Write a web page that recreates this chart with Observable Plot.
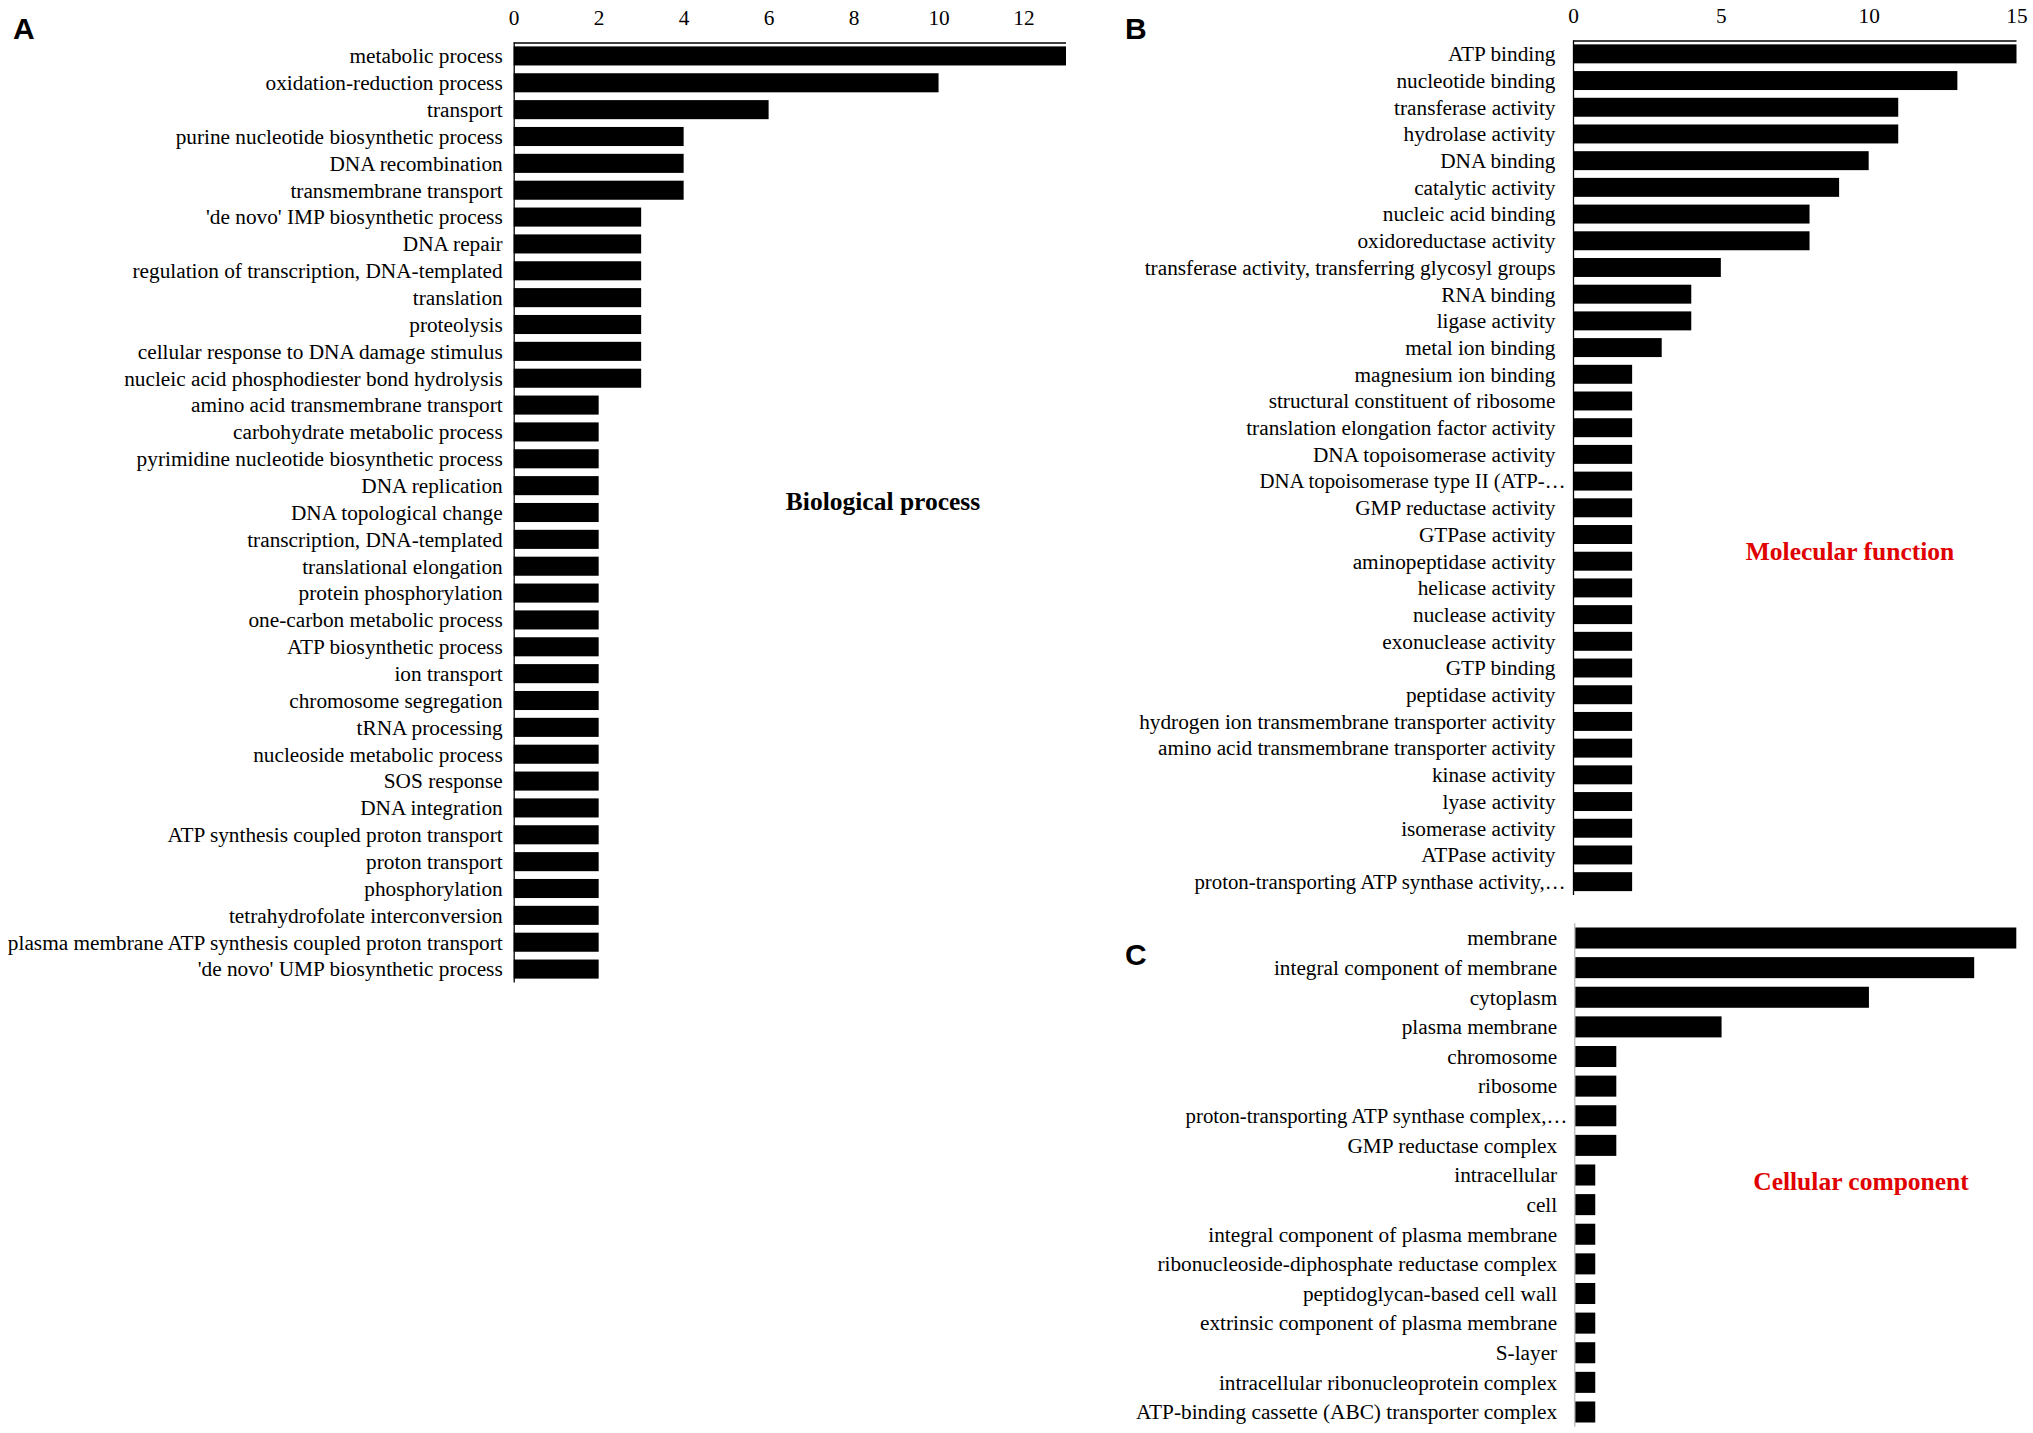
<!DOCTYPE html>
<html><head><meta charset="utf-8">
<script src="https://cdn.jsdelivr.net/npm/d3@7"></script>
<script src="https://cdn.jsdelivr.net/npm/@observablehq/plot@0.6"></script>
<style>
body{margin:0;background:#fff;}
#page{position:relative;width:2033px;height:1433px;background:#fff;overflow:hidden;}
.panel{position:absolute;}
.letter{position:absolute;font-family:"Liberation Sans",Arial,sans-serif;font-weight:bold;font-size:30px;line-height:30px;color:#000;}
.title{position:absolute;font-family:"Liberation Serif","Times New Roman",serif;font-weight:bold;font-size:25.5px;line-height:25.5px;transform:translateX(-50%);white-space:nowrap;}
</style></head><body><div id="page"></div>
<script>
// ---- A: Biological process ----
const bpTerms = [
  "metabolic process","oxidation-reduction process","transport","purine nucleotide biosynthetic process",
  "DNA recombination","transmembrane transport","'de novo' IMP biosynthetic process","DNA repair",
  "regulation of transcription, DNA-templated","translation","proteolysis","cellular response to DNA damage stimulus",
  "nucleic acid phosphodiester bond hydrolysis","amino acid transmembrane transport","carbohydrate metabolic process",
  "pyrimidine nucleotide biosynthetic process","DNA replication","DNA topological change","transcription, DNA-templated",
  "translational elongation","protein phosphorylation","one-carbon metabolic process","ATP biosynthetic process",
  "ion transport","chromosome segregation","tRNA processing","nucleoside metabolic process","SOS response",
  "DNA integration","ATP synthesis coupled proton transport","proton transport","phosphorylation",
  "tetrahydrofolate interconversion","plasma membrane ATP synthesis coupled proton transport","'de novo' UMP biosynthetic process"
];
const bpCounts = [13,10,6,4,4,4,3,3,3,3,3,3,3,2,2,2,2,2,2,2,2,2,2,2,2,2,2,2,2,2,2,2,2,2,2];
const bpTicks = [0,2,4,6,8,10,12];

// ---- B: Molecular function ----
const mfTerms = [
  "ATP binding","nucleotide binding","transferase activity","hydrolase activity","DNA binding","catalytic activity",
  "nucleic acid binding","oxidoreductase activity","transferase activity, transferring glycosyl groups","RNA binding",
  "ligase activity","metal ion binding","magnesium ion binding","structural constituent of ribosome",
  "translation elongation factor activity","DNA topoisomerase activity","DNA topoisomerase type II (ATP-\u2026",
  "GMP reductase activity","GTPase activity","aminopeptidase activity","helicase activity","nuclease activity",
  "exonuclease activity","GTP binding","peptidase activity","hydrogen ion transmembrane transporter activity",
  "amino acid transmembrane transporter activity","kinase activity","lyase activity","isomerase activity",
  "ATPase activity","proton-transporting ATP synthase activity,\u2026"
];
const mfCounts = [15,13,11,11,10,9,8,8,5,4,4,3,2,2,2,2,2,2,2,2,2,2,2,2,2,2,2,2,2,2,2,2];
const mfTicks = [0,5,10,15];

// ---- C: Cellular component ----
const ccTerms = [
  "membrane","integral component of membrane","cytoplasm","plasma membrane","chromosome","ribosome",
  "proton-transporting ATP synthase complex,\u2026","GMP reductase complex","intracellular","cell",
  "integral component of plasma membrane","ribonucleoside-diphosphate reductase complex","peptidoglycan-based cell wall",
  "extrinsic component of plasma membrane","S-layer","intracellular ribonucleoprotein complex",
  "ATP-binding cassette (ABC) transporter complex"
];
const ccCounts = [21,19,14,7,2,2,2,2,1,1,1,1,1,1,1,1,1];

const page = document.getElementById("page");

function panel(o) {
  const data = o.terms.map((t, i) => ({term: t, count: o.counts[i]}));
  const step = (o.height - o.mT - o.mB) / o.terms.length;
  const cut = o.terms.filter(t => t.endsWith("\u2026"));
  const full = o.terms.filter(t => !t.endsWith("\u2026"));
  const marks = [
    Plot.barX(data, {x: "count", y: "term", fill: "#000"}),
    Plot.ruleX([0], {stroke: o.axisColor, strokeWidth: o.axisWidth}),
    Plot.axisY({ticks: full, tickSize: 0, tickPadding: o.labelPad, label: null})
  ];
  if (cut.length) marks.push(Plot.axisY({ticks: cut, tickSize: 0, tickPadding: o.labelPad - 10, label: null, fontSize: "20.8px"}));
  if (o.ticks) {
    marks.push(Plot.ruleY([o.terms[0]], {dy: -step / 2, stroke: o.axisColor, strokeWidth: o.axisWidth}));
    marks.push(Plot.axisX({anchor: "top", ticks: o.ticks, tickSize: 0, tickPadding: 18.5, label: null}));
  }
  const svg = Plot.plot({
    width: o.width, height: o.height,
    marginLeft: o.mL, marginRight: o.mR, marginTop: o.mT, marginBottom: o.mB,
    style: {fontFamily: '"Liberation Serif","Times New Roman",serif', fontSize: "21.3px", background: "#fff", color: "#000", overflow: "visible"},
    x: {domain: [0, o.xMax], nice: false, axis: o.ticks ? undefined : null},
    y: {domain: o.terms, paddingInner: 0.29, paddingOuter: 0.145, round: false},
    marks
  });
  const wrap = document.createElement("div");
  wrap.className = "panel";
  wrap.style.left = o.left + "px";
  wrap.style.top = o.top + "px";
  wrap.appendChild(svg);
  page.appendChild(wrap);
}

panel({terms: bpTerms, counts: bpCounts, ticks: bpTicks, xMax: 13,
  left: 0, top: 0, width: 1100, height: 1000, mL: 513.7, mR: 34, mT: 42.5, mB: 17.5,
  labelPad: 11.5, axisColor: "#000", axisWidth: 1.3});
panel({terms: mfTerms, counts: mfCounts, ticks: mfTicks, xMax: 15,
  left: 1100, top: 0, width: 933, height: 910, mL: 473, mR: 16.5, mT: 40.5, mB: 15,
  labelPad: 18, axisColor: "#000", axisWidth: 1.3});
panel({terms: ccTerms, counts: ccCounts, ticks: null, xMax: 21,
  left: 1100, top: 910, width: 933, height: 523, mL: 474.2, mR: 16.7, mT: 13.2, mB: 6.2,
  labelPad: 17.5, axisColor: "#c0c0c0", axisWidth: 1.5});

function addText(cls, txt, left, top, color) {
  const d = document.createElement("div");
  d.className = cls; d.textContent = txt;
  d.style.left = left + "px"; d.style.top = top + "px";
  if (color) d.style.color = color;
  page.appendChild(d);
}
addText("letter", "A", 13, 13.6);
addText("letter", "B", 1125, 13.6);
addText("letter", "C", 1125, 940.3);
addText("title", "Biological process", 883, 489.3, "#000");
addText("title", "Molecular function", 1850, 538.6, "#e00000");
addText("title", "Cellular component", 1861, 1168.6, "#e00000");
</script>
</body></html>
